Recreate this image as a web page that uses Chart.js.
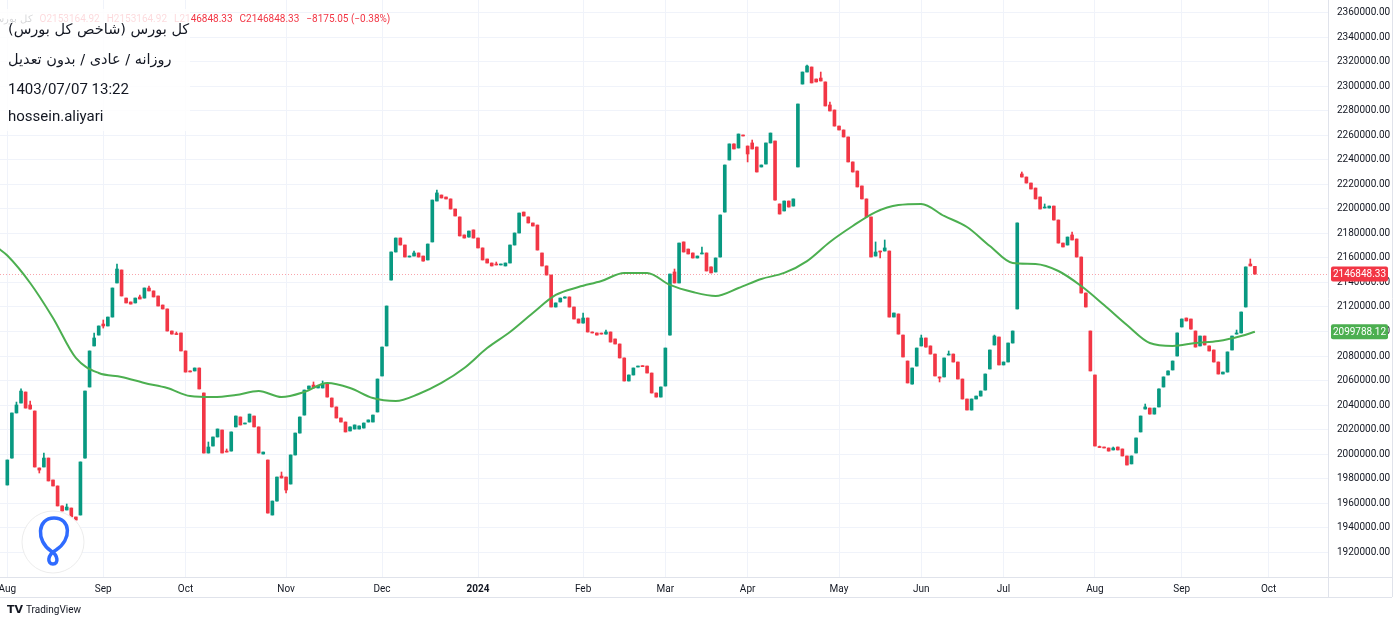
<!DOCTYPE html>
<html>
<head>
<meta charset="utf-8">
<script src="https://cdn.jsdelivr.net/npm/chart.js@4.4.1/dist/chart.umd.min.js"></script>
<style>
  html, body { margin: 0; padding: 0; background: #fff; overflow: hidden; }
  #wrap { position: relative; width: 1400px; height: 624px; }
</style>
</head>
<body>
<div id="wrap"><canvas id="chart" width="1400" height="624"></canvas></div>
<script>
// daily candles of the index, bar 0 = first visible bar (early Aug 2023)
const opens = [
  1974700,1996700,2033500,2041600,2050600,2040000,2035100,1988600,1989400,1996700,
  1978800,1973900,1957600,1954300,1955900,1948600,1950200,1996700,2054700,2088200,
  2097100,2106100,2104500,2111800,2139600,2150200,2127300,2124100,2123300,2128200,
  2127300,2135500,2133100,2129000,2121600,2118400,2100400,2097900,2098800,2084100,
  2067800,2067800,2070200,2049800,2000800,2006500,2013900,2019600,2002400,2002400,
  2022100,2030200,2024500,2026100,2031000,2022100,2000000,1995100,1950200,1961600,
  1982000,1981200,1975500,1999200,2017100,2031800,2053100,2056300,2053900,2053900,
  2057100,2045700,2038400,2029400,2026100,2018800,2020400,2020400,2021200,2026100,
  2026100,2034300,2063700,2088200,2142000,2164900,2176300,2170600,2160800,2161600,
  2164100,2161600,2158400,2173100,2206500,2211400,2209800,2208200,2200000,2193500,
  2178800,2177100,2182900,2176300,2168200,2159200,2155900,2155100,2154300,2153500,
  2155900,2170600,2180400,2197500,2193500,2188600,2186900,2164100,2153500,2146100,
  2120000,2124100,2127300,2128200,2120000,2110200,2106900,2111000,2099600,2098800,
  2098400,2097900,2099600,2093900,2089800,2078400,2059600,2064500,2071000,2071800,
  2071800,2066100,2049800,2046500,2055500,2097100,2148600,2139600,2173100,2167300,
  2164100,2160000,2163300,2164100,2152700,2148600,2160800,2197500,2240000,2253100,
  2249800,2260400,2251400,2253900,2250600,2234300,2236700,2253900,2255500,2204100,
  2198400,2206500,2202400,2234300,2302000,2311800,2315900,2306100,2306900,2303700,
  2284900,2280800,2267700,2264500,2258800,2238400,2231000,2218800,2208200,2193500,
  2161600,2165700,2165700,2165700,2111800,2114300,2097100,2075900,2057100,2071800,
  2088200,2094700,2088200,2081600,2062900,2062900,2080800,2081600,2075100,2061200,
  2044900,2035900,2044900,2047300,2052200,2069400,2089000,2095500,2072700,2075100,
  2090600,2118400,2228600,2226100,2221200,2217100,2209800,2200800,2200800,2202400,
  2191000,2172200,2170600,2178800,2175500,2160800,2131400,2100400,2064500,2005700,
  2005700,2004900,2003300,2005700,2004100,1998400,1991900,2000800,2018000,2036700,
  2037500,2032600,2038400,2054700,2064500,2068600,2080000,2103700,2111000,2110200,
  2100400,2088200,2096300,2088200,2084900,2075100,2065300,2066900,2084900,2097900,
  2098800,2120000,2155100,2153164.92
];
const closes = [
  1995100,2033500,2040000,2051400,2037500,2036700,1989400,1986900,1996700,1978000,
  1973900,1957600,1953500,1956700,1948600,1946100,1993500,2051400,2084100,2094700,
  2104500,2104500,2111800,2135500,2151000,2129000,2123300,2122400,2127300,2126500,
  2135500,2133100,2128200,2120800,2118400,2100400,2097900,2097500,2084100,2066900,
  2067000,2070200,2053100,2000800,2005700,2013900,2020400,2000800,2001600,2018000,
  2031000,2023700,2025300,2032600,2022100,2000800,2001600,1951800,1961600,1981200,
  1980400,1970600,1999200,2017100,2030200,2052200,2055500,2053900,2055500,2057100,
  2046500,2038400,2029400,2026100,2018000,2022100,2023700,2022900,2025300,2027800,
  2031800,2061200,2087300,2120800,2164900,2176300,2170600,2160800,2161600,2164100,
  2160800,2157500,2171400,2207300,2213100,2209000,2208200,2200000,2194300,2178000,
  2176300,2182000,2176300,2168200,2158400,2155900,2153500,2154300,2155100,2155900,
  2170600,2180400,2196700,2194300,2188600,2186100,2166500,2153500,2146100,2120000,
  2123300,2127300,2128200,2120000,2110200,2106900,2111000,2099600,2098800,2097100,
  2097900,2099600,2091400,2089800,2078400,2059600,2064500,2070200,2071800,2071300,
  2066100,2049800,2046500,2054700,2086500,2146900,2139600,2172200,2164900,2163300,
  2160000,2161600,2164100,2149400,2147800,2160000,2195100,2235900,2253100,2249000,
  2261200,2259600,2244900,2249000,2230200,2235900,2253900,2262000,2207300,2195900,
  2206500,2201600,2208200,2285700,2311800,2316700,2302900,2303700,2304500,2284100,
  2280000,2267700,2264500,2258800,2238400,2230200,2218000,2208200,2193500,2160800,
  2164900,2164900,2168200,2111800,2115100,2097900,2079200,2058000,2070200,2086500,
  2094700,2087300,2081600,2063700,2062000,2078400,2081600,2075100,2061200,2044900,
  2035900,2044900,2047300,2051400,2065300,2084900,2096300,2072700,2075100,2090600,
  2100400,2188600,2226100,2221200,2216300,2208200,2200000,2201600,2202400,2191000,
  2172200,2169000,2177100,2174700,2160800,2131400,2120000,2067800,2006500,2005300,
  2004900,2002400,2004900,2003300,1998400,1991000,1998400,2013100,2031000,2038400,
  2032600,2037500,2053100,2062900,2067800,2075900,2098800,2110200,2108600,2102000,
  2087300,2096300,2089000,2084100,2075100,2065300,2066900,2083300,2096300,2098800,
  2115900,2152700,2153500,2146848.33
];
// shadows sticking out of the body: [bar, price]
const highWicks = [
  [2,2042400],[3,2053100],[5,2043300],[8,2000800],[13,1959200],[19,2098800],[21,2109400],
  [24,2155100],[29,2129800],[31,2137100],[37,2099600],[44,2009800],[48,2004100],[60,1985300],
  [67,2058800],[69,2059600],[89,2165700],[94,2215500],[107,2156700],[126,2115100],[131,2101200],
  [146,2151000],[152,2169000],[163,2256300],[175,2317500],[178,2311800],[180,2287300],
  [190,2173100],[192,2174700],[200,2097100],[206,2084100],[216,2097100],[222,2230200],
  [227,2204100],[233,2181200],[239,2006500],[242,2005700],[249,2040800],[269,2101200],[272,2159200]
];
const lowWicks = [
  [7,1984500],[21,2102800],[61,1968200],[162,2238400],[191,2160000],[204,2058800]
];

// moving average: bar index / value
const maBars = [-2,0,5,10,15,20,25,30,35,40,45,50,55,60,65,70,75,80,85,90,95,100,105,110,115,
  120,125,130,135,140,145,150,155,160,165,170,175,180,185,190,195,200,205,210,215,220,225,230,
  235,240,245,250,255,260,265,270,273];
const maValues = [2168000,2162000,2139600,2111000,2078400,2066100,2062900,2058000,2053900,2047300,
  2046500,2048200,2051400,2046500,2050600,2058000,2053900,2045700,2043300,2049000,2058000,2070200,
  2086500,2099600,2115100,2129800,2136300,2141200,2147800,2147800,2138000,2132200,2129000,2135500,
  2142900,2147800,2157500,2173100,2186100,2197500,2203200,2204100,2194300,2185300,2169800,2155900,
  2155100,2149400,2137100,2121600,2105300,2090600,2088200,2090600,2092200,2096300,2099788.12];

const monthBars = [0,21,39,61,82,103,126,144,162,182,200,218,238,257,276];
const monthLabels = ['Aug','Sep','Oct','Nov','Dec','2024','Feb','Mar','Apr','May','Jun','Jul','Aug','Sep','Oct'];
const priceTicks = [1920000,1940000,1960000,1980000,2000000,2020000,2040000,2060000,2080000,2100000,
  2120000,2140000,2160000,2180000,2200000,2220000,2240000,2260000,2280000,2300000,2320000,2340000,2360000];

const UP = '#089981', DOWN = '#F23645', MA = '#4CAF50';
const axisFont = 'Roboto, "Noto Sans", sans-serif';

const highs = opens.map((o, i) => Math.max(o, closes[i]));
const lows = opens.map((o, i) => Math.min(o, closes[i]));
highWicks.forEach(([i, v]) => { highs[i] = v; });
lowWicks.forEach(([i, v]) => { lows[i] = v; });

const barColor = ctx => closes[ctx.dataIndex] >= opens[ctx.dataIndex] ? UP : DOWN;
const lastClose = closes[closes.length - 1];
const lastMa = maValues[maValues.length - 1];

const extras = {
  id: 'extras',
  beforeDatasetsDraw(chart) {
    const { ctx, chartArea: a, scales: { y } } = chart;
    const py = Math.round(y.getPixelForValue(lastClose)) + 0.5;
    ctx.save();
    ctx.strokeStyle = 'rgba(242,54,69,0.45)';
    ctx.lineWidth = 1;
    ctx.setLineDash([1, 2]);
    ctx.beginPath(); ctx.moveTo(a.left, py); ctx.lineTo(a.right, py); ctx.stroke();
    ctx.restore();
  },
  afterDraw(chart) {
    const { ctx, chartArea: a, scales: { y } } = chart;
    ctx.save();
    // frame lines
    ctx.strokeStyle = '#e0e3eb';
    ctx.lineWidth = 1;
    ctx.beginPath();
    ctx.moveTo(0, a.bottom + 0.5); ctx.lineTo(1392, a.bottom + 0.5);
    ctx.moveTo(0, 597.5); ctx.lineTo(1392, 597.5);
    ctx.moveTo(a.right + 0.5, 0); ctx.lineTo(a.right + 0.5, 597);
    ctx.moveTo(1392.5, 0); ctx.lineTo(1392.5, 597);
    ctx.stroke();

    // price tags on the axis
    const tag = (v, color) => {
      const py = y.getPixelForValue(v);
      ctx.fillStyle = color;
      ctx.beginPath();
      ctx.roundRect(1331, py - 7.5, 57, 15, 2);
      ctx.fill();
      ctx.fillStyle = '#fff';
      ctx.font = '10px ' + axisFont;
      ctx.textAlign = 'center';
      ctx.textBaseline = 'middle';
      ctx.fillText(v.toFixed(2), 1359.5, py + 0.5);
    };
    tag(lastClose, DOWN);
    tag(lastMa, MA);

    // OHLC legend line, mostly hidden behind the caption box
    ctx.textBaseline = 'middle';
    ctx.textAlign = 'left';
    ctx.font = '10px ' + axisFont;
    const gap = 7;
    const parts = ['O2153164.92', 'H2153164.92', 'L2146848.33', 'C2146848.33', '\u22128175.05 (\u22120.38%)'];
    const w = parts.map(t => ctx.measureText(t).width);
    let xs = [];
    xs[2] = 174;
    xs[1] = xs[2] - gap - w[1];
    xs[0] = xs[1] - gap - w[0];
    xs[3] = xs[2] + w[2] + gap;
    xs[4] = xs[3] + w[3] + gap;
    ctx.fillStyle = '#131722';
    ctx.direction = 'rtl';
    ctx.textAlign = 'right';
    ctx.fillText('کل بورس، 1D', xs[0] - gap, 19);
    ctx.direction = 'ltr';
    ctx.textAlign = 'left';
    ctx.fillStyle = DOWN;
    parts.forEach((t, i) => ctx.fillText(t, xs[i], 19));

    ctx.fillStyle = 'rgba(255,255,255,0.82)';
    ctx.fillRect(0, 9, 190, 122);

    // caption
    ctx.fillStyle = '#131722';
    ctx.direction = 'rtl';
    ctx.textAlign = 'left';
    ctx.font = '14.5px "DejaVu Sans", sans-serif';
    ctx.fillText('کل بورس (شاخص کل بورس)', 8, 30);
    ctx.fillText('روزانه / عادی / بدون تعدیل', 8, 60);
    ctx.direction = 'ltr';
    ctx.font = '15px Roboto, "Noto Sans", sans-serif';
    ctx.fillText('1403/07/07 13:22', 8, 90);
    ctx.fillText('hossein.aliyari', 8, 117);

    // watermark logo
    ctx.fillStyle = 'rgba(255,255,255,0.88)';
    ctx.strokeStyle = '#ececec';
    ctx.lineWidth = 1;
    ctx.beginPath(); ctx.arc(53, 542, 31, 0, Math.PI * 2); ctx.fill(); ctx.stroke();
    ctx.strokeStyle = '#2f6bff';
    ctx.lineWidth = 3.5;
    ctx.lineCap = 'round';
    ctx.beginPath();
    ctx.moveTo(51, 551);
    ctx.bezierCurveTo(36, 541, 37, 518, 54, 518);
    ctx.bezierCurveTo(71, 518, 72, 540, 56, 550);
    ctx.bezierCurveTo(47, 555, 47, 564, 53, 564);
    ctx.bezierCurveTo(59, 564, 58, 555, 51, 551);
    ctx.stroke();

    // footer
    ctx.fillStyle = '#131722';
    ctx.font = 'bold 11px "DejaVu Sans", sans-serif';
    ctx.fillText('TV', 7, 610);
    ctx.font = '10px Roboto, sans-serif';
    ctx.fillText('TradingView', 26, 610);
    ctx.restore();
  }
};

new Chart(document.getElementById('chart'), {
  type: 'bar',
  data: {
    datasets: [
      {
        type: 'line',
        data: maBars.map((b, i) => ({ x: b, y: maValues[i] })),
        borderColor: MA,
        borderWidth: 2,
        pointRadius: 0,
        cubicInterpolationMode: 'monotone',
        order: 0
      },
      {
        data: opens.map((o, i) => ({ x: i, y: [o, closes[i]] })),
        backgroundColor: barColor,
        barThickness: 3,
        minBarLength: 1,
        grouped: false,
        order: 1
      },
      {
        data: lows.map((l, i) => ({ x: i, y: [l, highs[i]] })),
        backgroundColor: barColor,
        barThickness: 1,
        minBarLength: 1,
        grouped: false,
        order: 2
      }
    ]
  },
  options: {
    responsive: false,
    animation: false,
    devicePixelRatio: 1,
    layout: { padding: { left: 0, right: 0, top: 0, bottom: 27 } },
    plugins: { legend: { display: false }, tooltip: { enabled: false } },
    scales: {
      x: {
        type: 'linear',
        min: -1.6,
        max: 289,
        offset: false,
        afterBuildTicks: s => { s.ticks = monthBars.map(v => ({ value: v })); },
        afterFit: s => { s.height = 20; s.paddingLeft = 0; s.paddingRight = 0; },
        grid: { color: '#f0f3fa', drawTicks: false, offset: false },
        border: { display: false },
        ticks: {
          autoSkip: false,
          maxRotation: 0,
          padding: 6,
          color: '#131722',
          font: ctx => ({ family: axisFont, size: 10, weight: ctx.tick && ctx.tick.label === '2024' ? 'bold' : 'normal' }),
          callback: (v, i) => monthLabels[i]
        }
      },
      y: {
        position: 'right',
        min: 1899600,
        max: 2370600,
        afterBuildTicks: s => { s.ticks = priceTicks.map(v => ({ value: v })); },
        afterFit: s => { s.width = 72; s.paddingTop = 0; s.paddingBottom = 0; },
        grid: { color: '#f0f3fa', drawTicks: false },
        border: { display: false },
        ticks: {
          padding: 9,
          color: '#131722',
          font: { family: axisFont, size: 10 },
          callback: v => v.toFixed(2)
        }
      }
    }
  },
  plugins: [extras]
});
</script>
</body>
</html>
